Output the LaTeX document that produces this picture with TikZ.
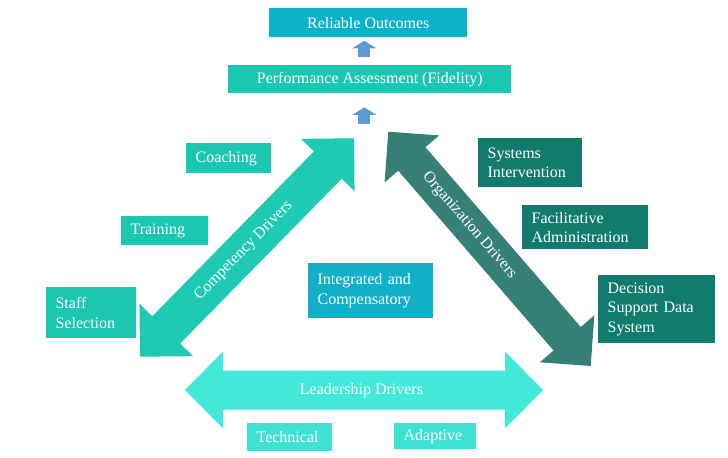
\documentclass[tikz,border=0pt]{standalone}
\usepackage{fontspec}
\setmainfont{Liberation Serif}
\usetikzlibrary{arrows.meta,calc}
\definecolor{cOut}{HTML}{0CB2C8}
\definecolor{cInt}{HTML}{10B0CA}
\definecolor{cTeal}{HTML}{1CC7B2}
\definecolor{cComp}{HTML}{1ECAB4}
\definecolor{cOrg}{HTML}{368078}
\definecolor{cDark}{HTML}{117C6E}
\definecolor{cLead}{HTML}{42E8D8}
\definecolor{cLight}{HTML}{3EE2D4}
\definecolor{cBlue}{HTML}{5B9BD5}
% #1 start coordinate, #2 angle, #3 length, #4 head length, #5 head half width, #6 shaft half width, #7 colour
\newcommand\bigdblarrow[7]{%
  \fill[#7, shift={(#1)}, rotate=#2] (0,0) -- (#4,#5) -- (#4,#6) -- ({#3-#4},#6) -- ({#3-#4},#5) -- (#3,0)
    -- ({#3-#4},-#5) -- ({#3-#4},-#6) -- (#4,-#6) -- (#4,-#5) -- cycle;}
\tikzset{
  txt/.style={font=\fontsize{12pt}{14.6pt}\selectfont, text=white},
  bx/.style={txt, rectangle, anchor=north west, inner xsep=7pt, inner ysep=2pt, align=left},
  cbx/.style={txt, rectangle, anchor=north west, inner sep=2pt, align=center},
  uparrow/.style={draw=cBlue, line width=9.2pt, -{Triangle[width=18pt,length=5.75pt]}},
  lbl/.style={txt, inner sep=0pt}
}
\begin{document}
\begin{tikzpicture}[x=0.75pt,y=-0.75pt]
\useasboundingbox (0,0) rectangle (728,457);
% top boxes
\node[cbx, fill=cOut, minimum width=148.5pt, minimum height=21.75pt] (out) at (269,8) {Reliable Outcomes};
\node[cbx, fill=cTeal, minimum width=212.25pt, minimum height=21pt] (perf) at (228,65) {Performance Assessment (Fidelity)};
% small up arrows
\coordinate (u1s) at (364.3,56.7);
\coordinate (u1e) at (364.3,40.7);
\coordinate (u2s) at (364.3,124);
\coordinate (u2e) at (364.3,107.3);
\draw[uparrow] (u1s) -- (u1e);
\draw[uparrow] (u2s) -- (u2e);
% big arrows
\coordinate (compA) at (140,356.7);
\coordinate (compB) at (354,138.3);
\coordinate (orgA) at (388.3,131.7);
\coordinate (orgB) at (590.7,366);
\coordinate (leadA) at (185,390);
\coordinate (leadB) at (543,390);
\bigdblarrow{compA}{45.58}{305.8}{37.5}{37.5}{19.5}{cComp}
\bigdblarrow{orgA}{-49.18}{309.6}{36}{36}{18}{cOrg}
\bigdblarrow{leadA}{0}{358}{38}{38.5}{19.5}{cLead}
\node[lbl, rotate=45.58] (compL) at ($(compA)!0.485!(compB)$) {Competency Drivers};
\node[lbl, rotate=-49.18] (orgL) at ($(orgA)!0.40!(orgB)$) {Organization Drivers};
\node[lbl] (leadL) at (361.5,390.5) {Leadership Drivers};
% left boxes
\node[bx, fill=cTeal, minimum width=63.75pt, minimum height=22.5pt, text width=49.75pt] (coach) at (186,143) {Coaching};
\node[bx, fill=cTeal, minimum width=65.25pt, minimum height=21.75pt, text width=51.25pt] (train) at (121,216) {Training};
\node[bx, fill=cTeal, minimum width=67.5pt, minimum height=38.25pt, text width=53.5pt] (staff) at (46,287) {Staff\\Selection};
% centre
\node[bx, fill=cInt, minimum width=93.75pt, minimum height=41.25pt, text width=79.75pt] (integ) at (308,263) {Integrated and\\Compensatory};
% right boxes
\node[bx, fill=cDark, minimum width=78pt, minimum height=36.75pt, text width=64pt] (sys) at (478,138) {Systems\\Intervention};
\node[bx, fill=cDark, minimum width=94.5pt, minimum height=33pt, text width=80.5pt] (fac) at (522,205) {Facilitative\\Administration};
\node[bx, fill=cDark, minimum width=87.75pt, minimum height=51pt, text width=73.75pt] (dec) at (598,275) {Decision\\Support Data\\System};
% bottom boxes
\node[bx, fill=cLight, minimum width=63.75pt, minimum height=21pt, text width=49.75pt] (tech) at (247,423) {Technical};
\node[bx, fill=cLight, minimum width=61.5pt, minimum height=19.5pt, text width=47.5pt] (adapt) at (394,423) {Adaptive};
\end{tikzpicture}
\end{document}
